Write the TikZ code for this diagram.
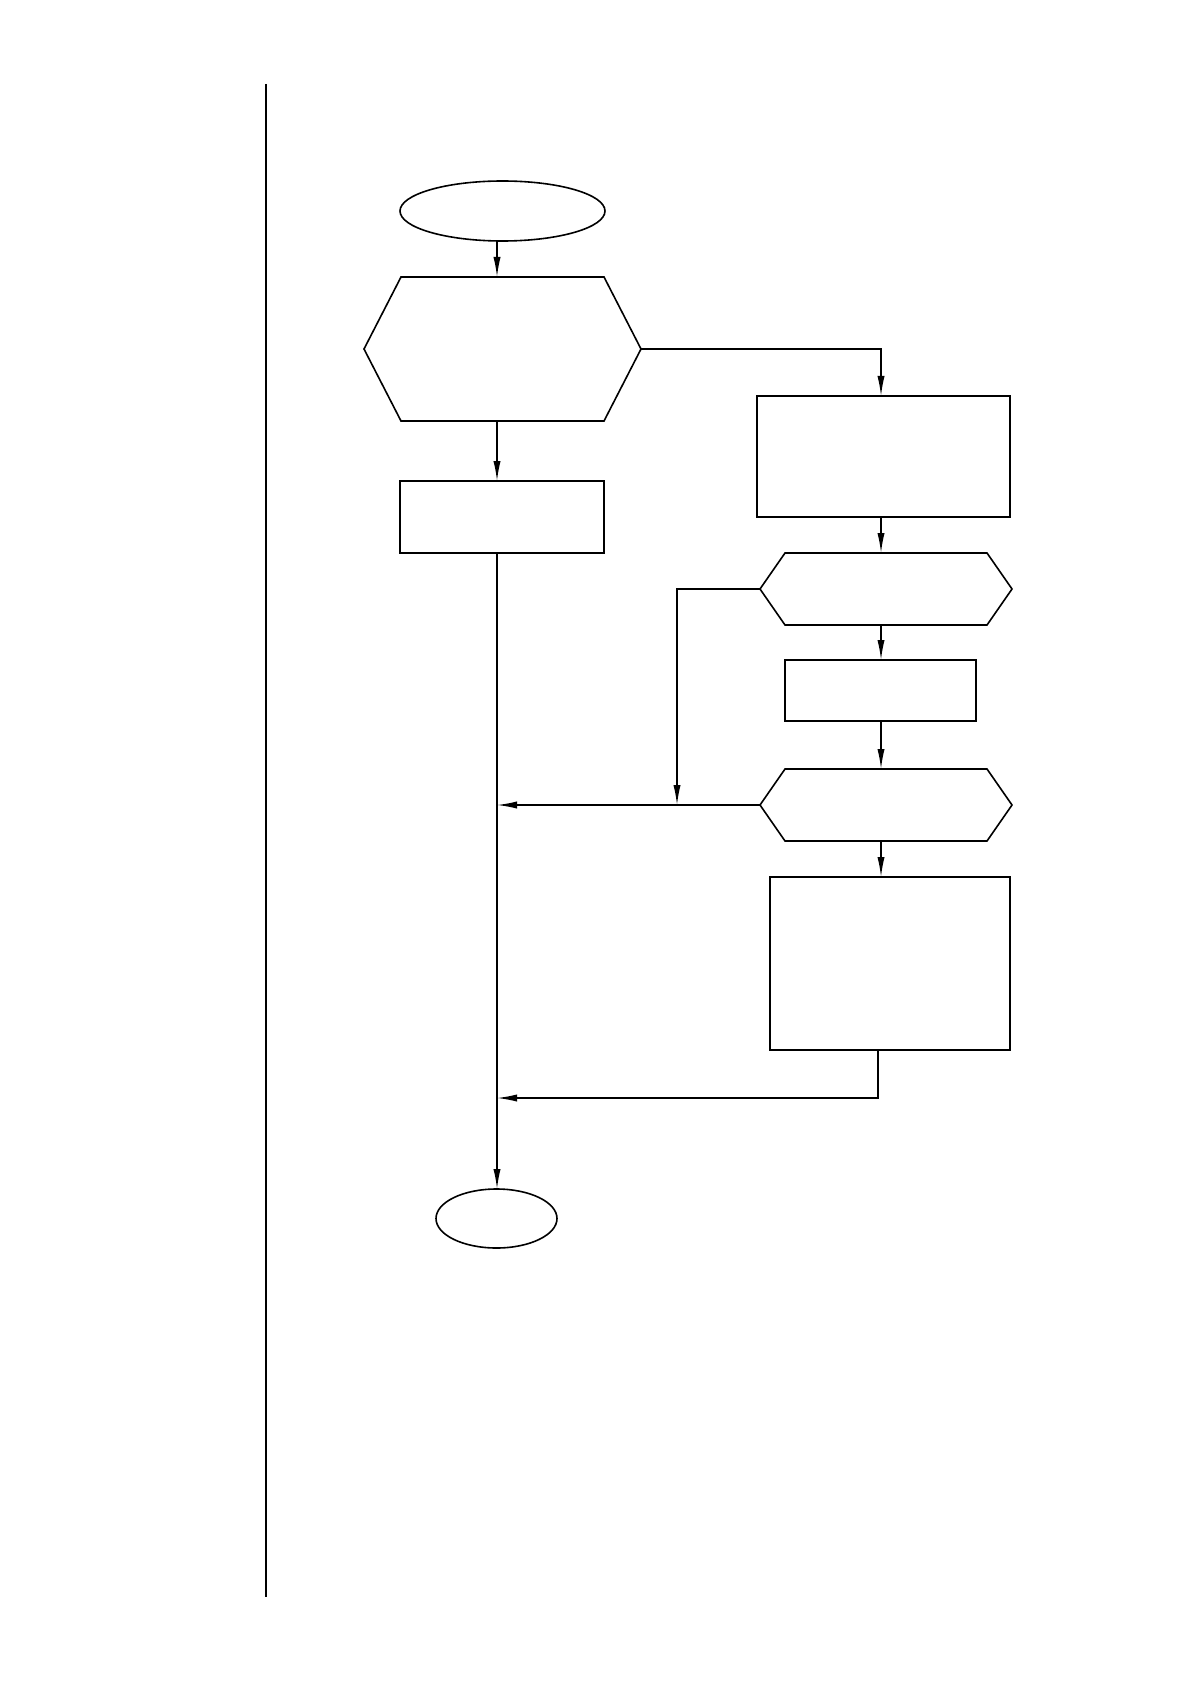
\documentclass[tikz,border=0pt]{standalone}
\usetikzlibrary{arrows.meta,shapes.geometric}
\tikzset{
  shp/.style={inner sep=0pt, outer sep=0pt},
  term/.style={shp, ellipse, draw, line width=0.8pt},
  boxn/.style={shp, rectangle, draw, line width=1pt},
  hexn/.style={shp, rectangle},
  hexline/.style={line width=0.8pt},
  conn/.style={line width=0.7pt},
  arr/.style={conn, -{Latex[length=10pt,width=3.6pt]}}
}
\begin{document}
\begin{tikzpicture}[x=0.5pt,y=-0.5pt]
\useasboundingbox (0,0) rectangle (1190,1684);
\coordinate (vtop) at (266,84);
\coordinate (vbot) at (266,1597);
\draw[line width=0.8pt] (vtop) -- (vbot);
\coordinate (L) at (497,0);
\coordinate (R) at (881,0);
% nodes
\node[term, minimum width=102.5pt, minimum height=30pt] (start) at (502.5,211) {};
\node[hexn, minimum width=138.5pt, minimum height=72pt] (h1) at (502.5,349) {};
\draw[hexline] (h1.west) -- ([xshift=18.5pt]h1.north west) -- ([xshift=-18.5pt]h1.north east) -- (h1.east) -- ([xshift=-18.5pt]h1.south east) -- ([xshift=18.5pt]h1.south west) -- cycle;
\node[boxn, minimum width=102pt, minimum height=36pt] (boxA) at (502,517) {};
\node[boxn, minimum width=126.5pt, minimum height=60.5pt] (boxB) at (883.5,456.5) {};
\node[hexn, minimum width=126pt, minimum height=36pt] (h2) at (886,589) {};
\draw[hexline] (h2.west) -- ([xshift=12.5pt]h2.north west) -- ([xshift=-12.5pt]h2.north east) -- (h2.east) -- ([xshift=-12.5pt]h2.south east) -- ([xshift=12.5pt]h2.south west) -- cycle;
\node[boxn, line width=0.8pt, minimum width=95.5pt, minimum height=30.5pt] (boxC) at (880.5,690.5) {};
\node[hexn, minimum width=126pt, minimum height=36pt] (h3) at (886,805) {};
\draw[hexline] (h3.west) -- ([xshift=12.5pt]h3.north west) -- ([xshift=-12.5pt]h3.north east) -- (h3.east) -- ([xshift=-12.5pt]h3.south east) -- ([xshift=12.5pt]h3.south west) -- cycle;
\node[boxn, line width=1.2pt, minimum width=120pt, minimum height=86.5pt] (boxD) at (890,963.5) {};
\node[term, minimum width=60.5pt, minimum height=29.5pt] (end) at (496.5,1218.5) {};
% connectors
\draw[arr] (start.south -| L) -- (h1.north -| L);
\draw[arr] (h1.south -| L) -- (boxA.north -| L);
\draw[arr] (boxA.south -| L) -- (end.north -| L);
\draw[arr] (h1.east) -| (boxB.north -| R);
\draw[arr] (boxB.south -| R) -- (h2.north -| R);
\draw[arr] (h2.south -| R) -- (boxC.north -| R);
\draw[arr] (boxC.south -| R) -- (h3.north -| R);
\draw[arr] (h3.south -| R) -- (boxD.north -| R);
\coordinate (J) at (677,805);
\draw[arr] (h2.west) -| (J);
\draw[arr] (h3.west) -- (h3.west -| L);
\coordinate (M) at (878,1098);
\draw[arr] (boxD.south -| M) -- (M) -- (M -| L);
\end{tikzpicture}
\end{document}
